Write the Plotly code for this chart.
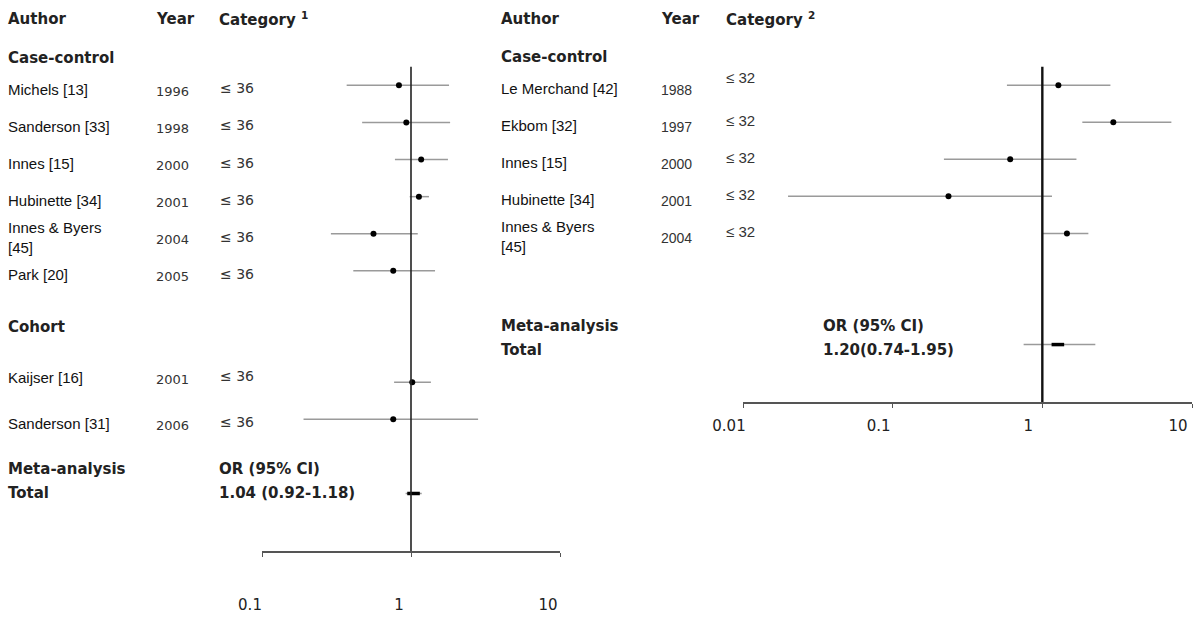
import plotly.graph_objects as go

# ---- data ----
left_authors = ["Michels [13]", "Sanderson [33]", "Innes [15]", "Hubinette [34]",
                "Innes & Byers<br>[45]", "Park [20]", "Kaijser [16]", "Sanderson [31]"]
left_years = ["1996", "1998", "2000", "2001", "2004", "2005", "2001", "2006"]
left_category = ["≤ 36"] * 8
left_or = [0.83, 0.93, 1.17, 1.13, 0.56, 0.76, 1.02, 0.76]
left_lo = [0.37, 0.47, 0.78, 0.98, 0.29, 0.41, 0.77, 0.19]
left_hi = [1.80, 1.83, 1.77, 1.32, 1.11, 1.45, 1.36, 2.82]
left_rows = [2, 3, 4, 5, 6, 7, 10, 11]
left_total = {"or": 1.04, "lo": 0.92, "hi": 1.18, "row": 13,
              "label": "1.04 (0.92-1.18)"}

right_authors = ["Le Merchand [42]", "Ekbom [32]", "Innes [15]", "Hubinette [34]",
                 "Innes & Byers<br>[45]"]
right_years = ["1988", "1997", "2000", "2001", "2004"]
right_category = ["≤ 32"] * 5
right_or = [1.28, 2.98, 0.61, 0.236, 1.46]
right_lo = [0.58, 1.85, 0.22, 0.020, 1.0]
right_hi = [2.85, 7.28, 1.69, 1.16, 2.03]
right_rows = [2, 3, 4, 5, 6]
right_total = {"or": 1.27, "lo": 0.75, "hi": 2.26, "row": 9,
               "label": "1.20(0.74-1.95)"}

left_ticks = [0.1, 1, 10]
right_ticks = [0.01, 0.1, 1, 10]

W, H = 1200, 617
BOLD = "DejaVu Sans"
BAR_GREY = "#9a9a9a"

fig = go.Figure()


def add_panel(xa, ya, ors, los, his, rows, total):
    fig.add_trace(go.Scatter(
        x=ors, y=rows, mode="markers", xaxis=xa, yaxis=ya,
        marker=dict(color="black", size=6),
        error_x=dict(type="data", symmetric=False,
                     array=[h - o for h, o in zip(his, ors)],
                     arrayminus=[o - l for o, l in zip(ors, los)],
                     color=BAR_GREY, thickness=1.5, width=0),
        showlegend=False, hoverinfo="x"))
    fig.add_trace(go.Scatter(
        x=[total["or"]], y=[total["row"]], mode="markers", xaxis=xa, yaxis=ya,
        marker=dict(symbol="line-ew", size=9, line=dict(width=3.5, color="black")),
        error_x=dict(type="data", symmetric=False,
                     array=[total["hi"] - total["or"]],
                     arrayminus=[total["or"] - total["lo"]],
                     color=BAR_GREY, thickness=1.5, width=0),
        showlegend=False, hoverinfo="x"))


add_panel("x", "y", left_or, left_lo, left_hi, left_rows, left_total)
add_panel("x2", "y2", right_or, right_lo, right_hi, right_rows, right_total)

# reference line at OR = 1
fig.add_shape(type="line", xref="x", yref="y", x0=1, x1=1, y0=1.5, y1=14.55,
              line=dict(color="#222", width=1.6))
fig.add_shape(type="line", xref="x2", yref="y2", x0=1, x1=1, y0=1.5, y1=10.55,
              line=dict(color="#111", width=2.4))


def txt(x, y, text, yref, size=15, family="Liberation Sans", color="#111", yshift=0):
    fig.add_annotation(x=x / W, y=y, xref="paper", yref=yref, text=text,
                       showarrow=False, xanchor="left", yanchor="middle",
                       align="left", yshift=yshift, borderpad=0,
                       font=dict(size=size, family=family, color=color))


def bold(x, y, text, yref):
    txt(x, y, "<b>" + text + "</b>", yref, size=15, family=BOLD, color="#222")


# left panel text
bold(7, 0.2, "Author", "y")
bold(155, 0.2, "Year", "y")
bold(218, 0.2, "Category <sup>1</sup>", "y")
bold(7, 1.25, "Case-control", "y")
bold(7, 8.5, "Cohort", "y")
bold(7, 12.35, "Meta-analysis", "y")
bold(7, 13.0, "Total", "y")
bold(218, 12.35, "OR (95% CI)", "y")
bold(218, 13.0, left_total["label"], "y")
for a, yr, c, r in zip(left_authors, left_years, left_category, left_rows):
    lift = 9 if r == 10 else 0  # Kaijser label sits above its bar in the original
    txt(7, r, a, "y", size=15, yshift=-4 + lift)
    txt(155, r, yr, "y", size=13, family="DejaVu Sans", color="#333", yshift=-6 + lift)
    txt(219, r, c, "y", size=14, family="DejaVu Sans", color="#333", yshift=-3 + lift)

# right panel text
bold(500, 0.2, "Author", "y2")
bold(660, 0.2, "Year", "y2")
bold(725, 0.2, "Category <sup>2</sup>", "y2")
bold(500, 1.25, "Case-control", "y2")
bold(500, 8.5, "Meta-analysis", "y2")
bold(500, 9.15, "Total", "y2")
bold(822, 8.5, "OR (95% CI)", "y2")
bold(822, 9.15, right_total["label"], "y2")
for a, yr, c, r in zip(right_authors, right_years, right_category, right_rows):
    txt(500, r, a, "y2", size=15, yshift=-3)
    txt(660, r, yr, "y2", size=14, color="#333", yshift=-5)
    txt(725, r, c, "y2", size=15, color="#333", yshift=8 if r == 2 else 2)

axis_common = dict(type="log", showgrid=False, zeroline=False, showline=True,
                   linecolor="#555", linewidth=1.5, ticks="outside", ticklen=4,
                   tickcolor="#555", automargin=False,
                   tickfont=dict(family="DejaVu Sans", size=15, color="#222"),
                   fixedrange=True)

fig.update_layout(
    width=W, height=H,
    margin=dict(l=0, r=0, t=0, b=0, autoexpand=False),
    paper_bgcolor="white", plot_bgcolor="white",
    xaxis=dict(axis_common, domain=[262 / W, 560 / W], range=[-1, 1], anchor="y",
               tickvals=left_ticks, ticktext=[str(t) for t in left_ticks],
               ticklabelstandoff=35, ticklabelshift=-12),
    yaxis=dict(domain=[66 / H, 1], range=[14.55, -0.3], visible=False,
               fixedrange=True, automargin=False),
    xaxis2=dict(axis_common, domain=[743 / W, 1192 / W], range=[-2, 1], anchor="y2",
                tickvals=right_ticks, ticktext=[str(t) for t in right_ticks],
                ticklabelstandoff=5, ticklabelshift=-14),
    yaxis2=dict(domain=[215 / H, 1], range=[10.55, -0.3], visible=False,
                fixedrange=True, automargin=False),
)

fig.write_html("out.html", config={"displayModeBar": False},
               post_script="document.body.style.margin='0';")
